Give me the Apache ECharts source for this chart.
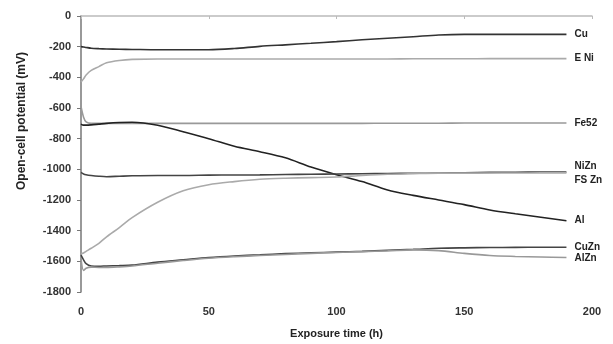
<!DOCTYPE html>
<html>
<head>
<meta charset="utf-8">
<script src="https://cdn.jsdelivr.net/npm/echarts@6/dist/echarts.min.js"></script>
<style>
  html, body { margin: 0; padding: 0; background: #fff; }
  #chart { width: 613px; height: 344px; }
</style>
</head>
<body>
<div id="chart"></div>
<script>
// exposure time (h)
const times = [0, 1, 2, 4, 7, 10, 15, 20, 30, 40, 50, 60, 70, 80, 90, 100, 110, 120, 130, 140, 150, 160, 170, 180, 190];

// open-cell potential (mV) per coating
const cu    = [-200, -202, -205, -210, -213, -215, -217, -218, -220, -220, -220, -212, -198, -188, -178, -167, -155, -145, -135, -124, -120, -120, -120, -120, -120];
const eNi   = [-430, -410, -385, -355, -330, -305, -290, -283, -280, -280, -280, -280, -280, -280, -280, -280, -280, -280, -279, -279, -279, -278, -278, -278, -278];
const fe52  = [-590, -660, -690, -700, -700, -700, -700, -700, -700, -700, -700, -700, -700, -700, -700, -700, -700, -699, -699, -699, -698, -698, -698, -698, -698];
const al    = [-705, -712, -712, -710, -705, -700, -695, -693, -712, -755, -800, -850, -885, -925, -985, -1035, -1080, -1135, -1170, -1200, -1230, -1265, -1290, -1312, -1335];
const niZn  = [-1020, -1030, -1035, -1040, -1045, -1048, -1045, -1042, -1040, -1040, -1038, -1037, -1036, -1034, -1032, -1030, -1029, -1027, -1026, -1024, -1022, -1020, -1019, -1018, -1017];
const fsZn  = [-1550, -1545, -1535, -1515, -1483, -1440, -1380, -1315, -1215, -1140, -1100, -1080, -1065, -1058, -1054, -1050, -1040, -1032, -1028, -1025, -1025, -1024, -1024, -1023, -1023];
const cuZn  = [-1560, -1590, -1615, -1630, -1632, -1630, -1628, -1625, -1605, -1590, -1575, -1565, -1558, -1550, -1545, -1540, -1535, -1528, -1522, -1515, -1512, -1510, -1509, -1508, -1508];
const alZn  = [-1580, -1660, -1645, -1638, -1640, -1640, -1636, -1630, -1612, -1595, -1580, -1570, -1562, -1555, -1548, -1542, -1537, -1532, -1525, -1530, -1548, -1562, -1568, -1572, -1575];

const seriesDefs = [
  { name: 'Cu', data: cu, color: '#333', offset: [0, 0] },
  { name: 'E Ni', data: eNi, color: '#aaa', offset: [0, 0] },
  { name: 'Fe52', data: fe52, color: '#999', offset: [0, 0] },
  { name: 'Al', data: al, color: '#222', offset: [0, 0] },
  { name: 'NiZn', data: niZn, color: '#444', offset: [0, -6] },
  { name: 'FS Zn', data: fsZn, color: '#aaa', offset: [0, 7] },
  { name: 'CuZn', data: cuZn, color: '#444', offset: [0, 0] },
  { name: 'AlZn', data: alZn, color: '#999', offset: [0, 1] }
];

const chart = echarts.init(document.getElementById('chart'));

chart.setOption({
  animation: false,
  backgroundColor: '#fff',
  textStyle: { fontFamily: 'Arial, "Liberation Sans", sans-serif' },
  grid: { left: 81, right: 21, top: 16, bottom: 50 },
  xAxis: {
    type: 'value',
    min: 0,
    max: 200,
    interval: 50,
    name: 'Exposure time (h)',
    nameLocation: 'middle',
    nameGap: 36,
    nameTextStyle: { color: '#222', fontSize: 11, fontWeight: 'bold' },
    axisLine: { lineStyle: { color: '#bbb', width: 1.5 } },
    axisTick: { show: true, length: 3, lineStyle: { color: '#bbb' } },
    axisLabel: { color: '#333', fontSize: 11, fontWeight: 'bold', margin: 14, formatter: v => String(v) },
    splitLine: { show: false }
  },
  yAxis: {
    type: 'value',
    min: -1800,
    max: 0,
    interval: 200,
    axisLine: { show: true, onZero: false, lineStyle: { color: '#777', width: 1.5 } },
    axisTick: { show: true, length: 4, lineStyle: { color: '#777' } },
    axisLabel: { color: '#333', fontSize: 11, fontWeight: 'bold', margin: 10, formatter: v => String(v) },
    splitLine: { show: false }
  },
  graphic: [{
    type: 'text',
    x: 22,
    y: 121,
    rotation: Math.PI / 2,
    style: {
      text: 'Open-cell potential (mV)',
      fill: '#222',
      font: 'bold 12px Arial, "Liberation Sans", sans-serif',
      align: 'center',
      verticalAlign: 'middle'
    }
  }],
  series: seriesDefs.map(s => ({
    name: s.name,
    type: 'line',
    data: times.map((t, i) => [t, s.data[i]]),
    showSymbol: false,
    smooth: 0.3,
    lineStyle: { color: s.color, width: 1.6 },
    itemStyle: { color: s.color },
    endLabel: {
      show: true,
      formatter: s.name,
      color: '#222',
      fontSize: 10,
      fontWeight: 'bold',
      distance: 8,
      offset: s.offset
    }
  }))
});
</script>
</body>
</html>
